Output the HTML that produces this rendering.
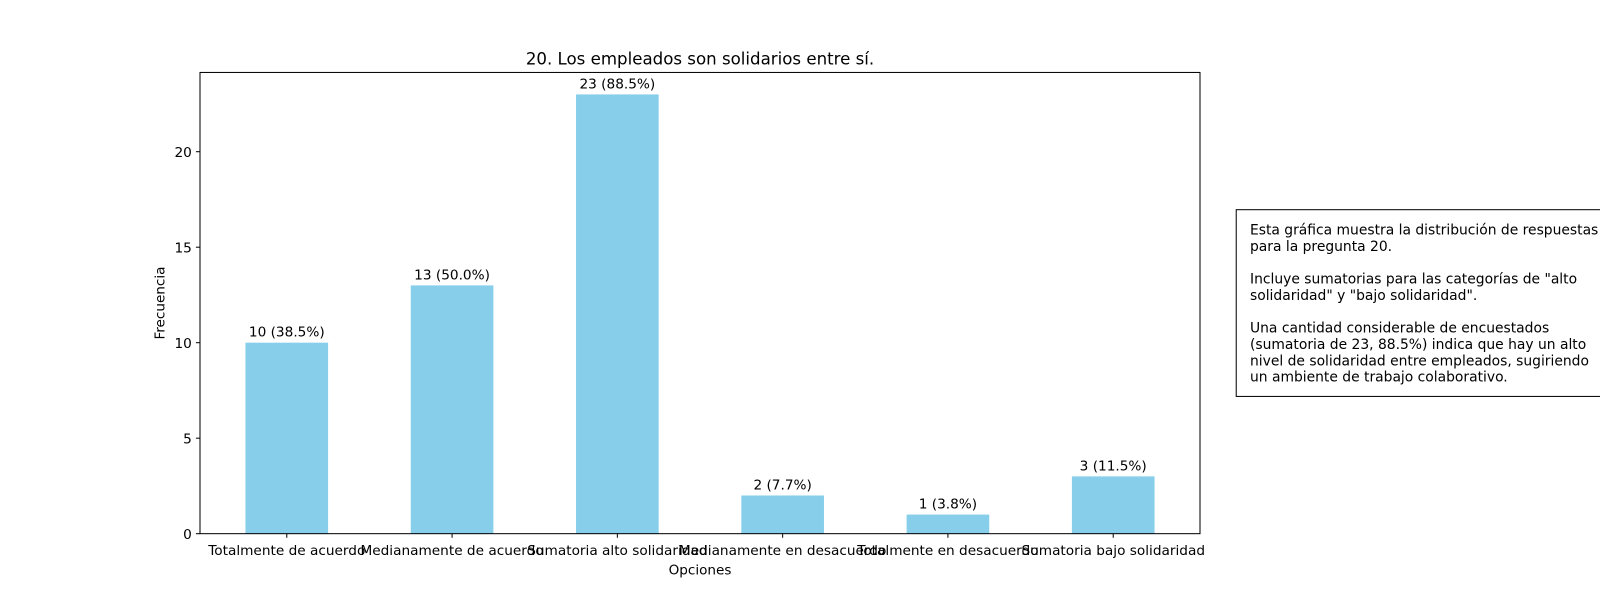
<!DOCTYPE html>
<html><head><meta charset="utf-8"><style>
body{margin:0;background:#fff;width:1600px;height:600px;overflow:hidden}
svg text{font-family:"DejaVu Sans","Liberation Sans",sans-serif;fill:#000}
</style></head><body>
<svg id="chart" width="1600" height="600" viewBox="0 0 1568 588">
<text x="686" y="63" font-size="16.3" text-anchor="middle">20. Los empleados son solidarios entre sí.</text>
<g id="bars"></g>
<g id="axes"></g>
<rect x="196" y="71" width="980" height="452" fill="none" stroke="#000" stroke-width="1"/>
<text x="686" y="563" font-size="13.3" text-anchor="middle">Opciones</text>
<text transform="translate(161,297) rotate(-90)" font-size="13.3" text-anchor="middle">Frecuencia</text>
<rect x="1211.5" y="205.5" width="420" height="183" fill="#fff" stroke="#000"/>
<g font-size="13.6">
<text x="1225" y="230">Esta gráfica muestra la distribución de respuestas</text>
<text x="1225" y="246">para la pregunta 20.</text>
<text x="1225" y="278">Incluye sumatorias para las categorías de "alto</text>
<text x="1225" y="294">solidaridad" y "bajo solidaridad".</text>
<text x="1225" y="326">Una cantidad considerable de encuestados</text>
<text x="1225" y="342">(sumatoria de 23, 88.5%) indica que hay un alto</text>
<text x="1225" y="358">nivel de solidaridad entre empleados, sugiriendo</text>
<text x="1225" y="374">un ambiente de trabajo colaborativo.</text>
</g>
</svg>
<script>
const categories=["Totalmente de acuerdo","Medianamente de acuerdo","Sumatoria alto solidaridad","Medianamente en desacuerdo","Totalmente en desacuerdo","Sumatoria bajo solidaridad"];
const values=[10,13,23,2,1,3];
const percents=["38.5%","50.0%","88.5%","7.7%","3.8%","11.5%"];
const yTicks=[0,5,10,15,20];
const NS="http://www.w3.org/2000/svg";
const L=196,R=1176,T=71,B=523;
const ymax=Math.max(...values)*1.05;
const xmin=-0.525,xmax=categories.length-1+0.525;
const x=i=>L+(i-xmin)/(xmax-xmin)*(R-L);
const y=v=>B-v/ymax*(B-T);
const bw=0.5*(R-L)/(xmax-xmin);
const bars=document.getElementById('bars'),axes=document.getElementById('axes');
function mk(tag,attrs,parent){const e=document.createElementNS(NS,tag);for(const k in attrs)e.setAttribute(k,attrs[k]);parent.appendChild(e);return e;}
values.forEach((v,i)=>{
 const r=mk('rect',{x:x(i)-bw/2,y:y(v),width:bw,height:B-y(v),fill:'#87ceeb'},bars);
 
 
 const t=mk('text',{x:x(i),y:y(v)-6,'font-size':13.4,'text-anchor':'middle'},bars);
 t.textContent=v+' ('+percents[i]+')';
 
 
 const tk=mk('line',{x1:x(i),x2:x(i),y1:B,y2:B+4,stroke:'#000'},axes);
 
 
 const tl=mk('text',{x:x(i),y:B+21,'font-size':13.4,'text-anchor':'middle'},axes);
 tl.textContent=categories[i];
 
 
});
yTicks.forEach(v=>{
 const tk=mk('line',{x1:L-4,x2:L,y1:y(v),y2:y(v),stroke:'#000'},axes);
 
 
 const tl=mk('text',{x:L-8,y:y(v)+5,'font-size':13.4,'text-anchor':'end'},axes);
 tl.textContent=v;
 
 
});
</script>
</body></html>
